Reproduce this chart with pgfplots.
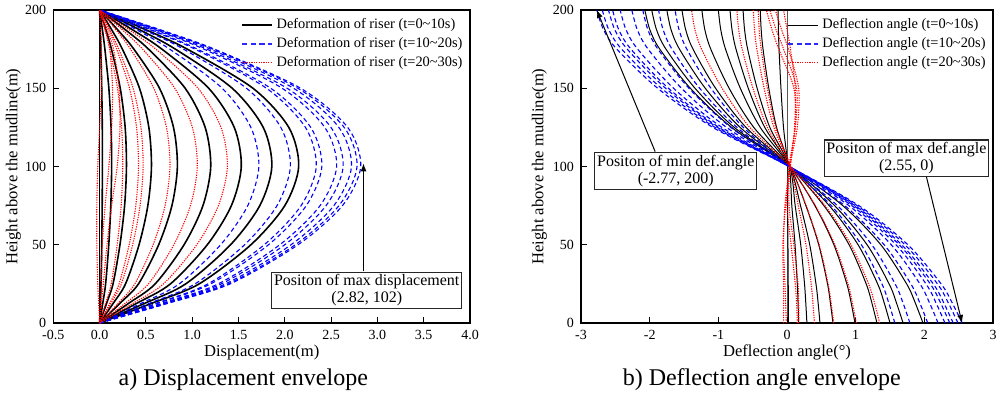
\documentclass[border=0pt]{standalone}
\usepackage{fontspec}
\setmainfont{Liberation Serif}
\usepackage{pgfplots}
\pgfplotsset{compat=1.18}
\usepackage{pgfplotstable}
\usetikzlibrary{arrows.meta}
\definecolor{legblue}{RGB}{40,40,255}

\pgfplotstableread{
y     k0 k1    k2    k3    k4    k5    k6    k7    k8    k9    b1    b2    b3    b4    b5    b6    b7    b8    b9    r1    r2    r3    r4    r5    r6    r7    r8    r9
0     0  0     0     0     0     0     0     0     0     0     0     0     0     0     0     0     0     0     0     0     0     0     0     0     0     0     0     0
12.5  0  0.008 0.034 0.075 0.146 0.218 0.312 0.398 0.484 0.559 0.447 0.536 0.608 0.624 0.666 0.684 0.707 0.723 0.733 0.359 0.274 0.198 0.122 0.109 0.065 0.02  0.01  -0.01
25    0  0.015 0.065 0.145 0.280 0.420 0.600 0.765 0.930 1.075 0.860 1.030 1.170 1.200 1.280 1.315 1.360 1.390 1.410 0.690 0.528 0.380 0.235 0.210 0.125 0.04  0.02  -0.02
50    0  0.023 0.099 0.220 0.426 0.638 0.912 1.163 1.414 1.634 1.307 1.566 1.778 1.824 1.946 1.999 2.067 2.113 2.143 1.049 0.802 0.578 0.357 0.319 0.190 0.08  0.03  -0.03
75    0  0.028 0.121 0.270 0.521 0.781 1.116 1.423 1.730 2.000 1.600 1.916 2.176 2.232 2.381 2.446 2.530 2.585 2.623 1.283 0.981 0.707 0.437 0.391 0.233 0.13  0.06  -0.03
100   0  0.030 0.130 0.290 0.560 0.840 1.200 1.530 1.860 2.150 1.720 2.060 2.340 2.400 2.560 2.630 2.720 2.780 2.820 1.380 1.055 0.760 0.470 0.420 0.250 0.19  0.10  -0.02
125   0  0.029 0.124 0.276 0.532 0.798 1.140 1.454 1.767 2.043 1.634 1.957 2.223 2.280 2.432 2.499 2.584 2.641 2.679 1.311 1.002 0.722 0.447 0.399 0.238 0.22  0.13  0.00
150   0  0.023 0.100 0.223 0.431 0.647 0.924 1.178 1.432 1.656 1.324 1.586 1.802 1.848 1.971 2.025 2.094 2.141 2.171 1.063 0.812 0.585 0.362 0.323 0.193 0.21  0.14  0.02
175   0  0.013 0.057 0.128 0.246 0.370 0.528 0.673 0.818 0.946 0.757 0.906 1.030 1.056 1.126 1.157 1.197 1.223 1.241 0.607 0.464 0.334 0.207 0.185 0.110 0.15  0.11  0.02
187.5 0  0.007 0.030 0.067 0.129 0.193 0.276 0.352 0.428 0.495 0.396 0.474 0.538 0.552 0.589 0.605 0.626 0.639 0.649 0.317 0.243 0.175 0.108 0.097 0.058 0.08  0.06  0.01
200   0  0     0     0     0     0     0     0     0     0     0     0     0     0     0     0     0     0     0     0     0     0     0     0     0     0     0     0
}\tabL

\pgfplotstableread{
y     k0 k1     k2     k3     k4     k5     k6     k7     k8     k9     k10    b1     b2     b3     b4     b5     b6     b7     b8     b9     r1     r2     r3     r4     r5    r6    r7    r8
0     0  0.02   0.17   0.29   0.48   0.67   0.99   1.31   1.50   1.69   1.98   1.57   1.79   2.05   2.20   2.30   2.37   2.42   2.49   2.55   1.35   1.01   0.68   0.40   0.17  0.15  -0.01 -0.05
12.5  0  0.019  0.161  0.274  0.454  0.633  0.936  1.238  1.418  1.597  1.871  1.484  1.692  1.937  2.079  2.174  2.240  2.287  2.353  2.410  1.276  0.954  0.643  0.378  0.17  0.14  -0.02 -0.05
25    0  0.018  0.150  0.255  0.422  0.590  0.871  1.153  1.320  1.487  1.742  1.382  1.575  1.804  1.936  2.024  2.086  2.130  2.191  2.244  1.188  0.889  0.598  0.352  0.16  0.12  -0.03 -0.05
50    0  0.014  0.117  0.200  0.331  0.462  0.683  0.904  1.035  1.166  1.366  1.083  1.235  1.415  1.518  1.587  1.635  1.670  1.718  1.760  0.932  0.697  0.469  0.276  0.10  0.06  -0.05 -0.06
75    0  0.008  0.070  0.119  0.197  0.275  0.406  0.537  0.615  0.693  0.812  0.644  0.734  0.841  0.902  0.943  0.972  0.992  1.021  1.046  0.554  0.414  0.279  0.164  0.03  0.00  -0.03 -0.02
100   0  0.01   0.03   0.04   0.04   0.04   0.04   0.04   0.04   0.04   0.04   0.03   0.03   0.03   0.03   0.03   0.03   0.03   0.03   0.03   0.05   0.05   0.05   0.05   0.04  0.03  0.04  0.05
125   0  -0.051 -0.152 -0.250 -0.324 -0.390 -0.484 -0.597 -0.683 -0.768 -0.807 -0.636 -0.729 -0.819 -0.881 -0.948 -0.991 -1.014 -1.049 -1.080 -0.542 -0.285 -0.191 -0.164 0.12  0.12  0.15  0.11
150   0  -0.088 -0.265 -0.435 -0.564 -0.680 -0.843 -1.040 -1.190 -1.340 -1.408 -1.108 -1.272 -1.428 -1.537 -1.652 -1.727 -1.768 -1.829 -1.884 -0.945 -0.496 -0.333 -0.286 0.10  0.14  0.17  0.12
175   0  -0.116 -0.349 -0.573 -0.743 -0.895 -1.110 -1.369 -1.566 -1.763 -1.853 -1.459 -1.674 -1.880 -2.023 -2.175 -2.273 -2.327 -2.408 -2.479 -1.244 -0.653 -0.439 -0.376 -0.12 -0.05 0.02  0.05
187.5 0  -0.125 -0.376 -0.618 -0.801 -0.965 -1.197 -1.476 -1.689 -1.901 -1.998 -1.573 -1.805 -2.027 -2.181 -2.345 -2.451 -2.509 -2.596 -2.673 -1.341 -0.704 -0.473 -0.405 -0.22 -0.16 -0.08 0.00
200   0  -0.13  -0.39  -0.64  -0.83  -1.00  -1.24  -1.53  -1.75  -1.97  -2.07  -1.63  -1.87  -2.10  -2.26  -2.43  -2.54  -2.60  -2.69  -2.77  -1.39  -0.73  -0.49  -0.42  -0.30 -0.25 -0.17 -0.05
}\tabR

\tikzset{
  blk/.style={black, line width=0.8pt, smooth},
  blkR/.style={black, line width=0.5pt, smooth},
  blu/.style={blue, line width=0.55pt, dash pattern=on 2.2pt off 1.5pt, smooth},
  rdd/.style={red, line width=0.55pt, dash pattern=on 0.6pt off 0.6pt, smooth},
  annbox/.style={draw=black!85, line width=0.6pt, fill=white, align=center, font=\fontsize{8}{8.6}\selectfont, inner sep=1pt},
}
\pgfplotsset{
  panel/.style={
    scale only axis, height=156.5pt,
    ymin=0, ymax=200, ytick={0,50,100,150,200},
    tick align=inside, tick pos=left, major tick length=3pt,
    axis line style={line width=0.6pt},
    every tick/.style={black, line width=0.5pt},
    /pgf/number format/assume math mode=true,
    tick label style={font=\fontsize{7}{8}\selectfont},
    ylabel={Height above the mudline(m)},
    label style={font=\fontsize{8.3}{9}\selectfont},
    legend style={at={(0.995,0.99)}, anchor=north east, draw=none, fill=none,
      font=\fontsize{7.2}{8}\selectfont, row sep=-1.2pt, inner sep=0.5pt},
    legend cell align=left,
    legend image code/.code={\draw[##1] (0pt,0pt) -- (15pt,0pt);},
  }
}

\begin{document}
\begin{tikzpicture}
\path[use as bounding box] (-26.65pt,-36.5pt) rectangle (473.35pt,161.5pt);

\begin{axis}[panel, at={(0pt,0pt)}, anchor=south west, width=208.35pt,
  xmin=-0.5, xmax=4, xtick={-0.5,0,0.5,1,1.5,2,2.5,3,3.5,4},
  xticklabel style={/pgf/number format/.cd, fixed, fixed zerofill, precision=1},
  xlabel={Displacement(m)},
  xlabel style={at={(axis description cs:0.5,-0.093)}, anchor=center},
  ylabel style={at={(axis description cs:-0.096,0.5)}, anchor=center},
]
\addlegendimage{color=black, line width=0.8pt}
\addlegendentry{Deformation of riser (t=0\textasciitilde 10s)}
\addlegendimage{color=legblue, line width=0.75pt, dash pattern=on 2.8pt off 1.6pt}
\addlegendentry{Deformation of riser (t=10\textasciitilde 20s)}
\addlegendimage{color=red, line width=0.6pt, dash pattern=on 0.6pt off 0.6pt}
\addlegendentry{Deformation of riser (t=20\textasciitilde 30s)}
\pgfplotsinvokeforeach{k0,k1,k2,k3,k4,k5,k6,k7,k8,k9}{\addplot[blk, forget plot] table[x=#1,y=y]{\tabL};}
\pgfplotsinvokeforeach{b1,b2,b3,b4,b5,b6,b7,b8,b9}{\addplot[blu, forget plot] table[x=#1,y=y]{\tabL};}
\pgfplotsinvokeforeach{r1,r2,r3,r4,r5,r6,r7,r8,r9}{\addplot[rdd, forget plot] table[x=#1,y=y]{\tabL};}
\draw[line width=0.5pt, -{Latex[length=4pt,width=3pt]}] (axis cs:2.85,33) -- (axis cs:2.85,102);
\node[annbox, minimum width=95pt, minimum height=18pt] at (axis cs:2.885,21) {Positon of max displacement\\(2.82, 102)};
\end{axis}

\begin{axis}[panel, at={(263.85pt,0pt)}, anchor=south west, width=206pt,
  xmin=-3, xmax=3, xtick={-3,-2,-1,0,1,2,3},
  xlabel={Deflection angle(°)},
  xlabel style={at={(axis description cs:0.5,-0.093)}, anchor=center},
  ylabel style={at={(axis description cs:-0.101,0.5)}, anchor=center},
]
\addlegendimage{color=black, line width=0.5pt}
\addlegendentry{Deflection angle (t=0\textasciitilde 10s)}
\addlegendimage{color=legblue, line width=0.75pt, dash pattern=on 2.8pt off 1.6pt}
\addlegendentry{Deflection angle (t=10\textasciitilde 20s)}
\addlegendimage{color=red, line width=0.6pt, dash pattern=on 0.6pt off 0.6pt}
\addlegendentry{Deflection angle (t=20\textasciitilde 30s)}
\pgfplotsinvokeforeach{k0,k1,k2,k3,k4,k5,k6,k7,k8,k9,k10}{\addplot[blkR, forget plot] table[x=#1,y=y]{\tabR};}
\pgfplotsinvokeforeach{b1,b2,b3,b4,b5,b6,b7,b8,b9}{\addplot[blu, forget plot] table[x=#1,y=y]{\tabR};}
\pgfplotsinvokeforeach{r1,r2,r3,r4,r5,r6,r7,r8}{\addplot[rdd, forget plot] table[x=#1,y=y]{\tabR};}
\draw[line width=0.5pt, -{Latex[length=4pt,width=3pt]}] (axis cs:-1.92,109.5) -- (axis cs:-2.77,200);
\draw[line width=0.5pt, -{Latex[length=4pt,width=3pt]}] (axis cs:2.03,93.5) -- (axis cs:2.55,0);
\node[annbox, minimum width=81pt, minimum height=18.5pt] at (axis cs:-1.62,97) {Positon of min def.angle\\(-2.77, 200)};
\node[annbox, minimum width=81.7pt, minimum height=18.3pt] at (axis cs:1.74,105.2) {Positon of max def.angle\\(2.55, 0)};
\end{axis}

\node[font=\fontsize{12}{14}\selectfont] at (95pt,-28.5pt) {a) Displacement envelope};
\node[font=\fontsize{12}{14}\selectfont] at (354.2pt,-28.5pt) {b) Deflection angle envelope};
\end{tikzpicture}
\end{document}
